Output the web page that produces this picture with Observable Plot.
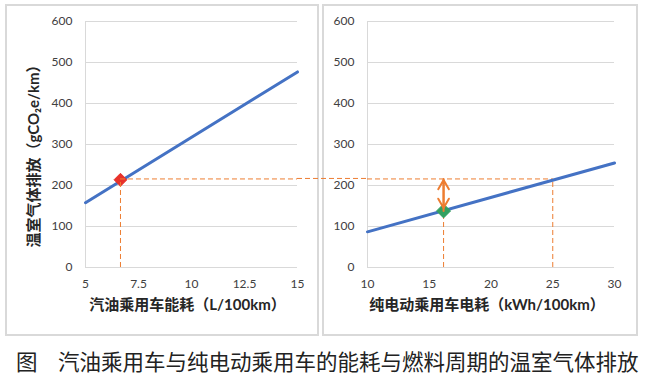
<!DOCTYPE html>
<html><head><meta charset="utf-8">
<script src="https://cdn.jsdelivr.net/npm/d3@7"></script>
<script src="https://cdn.jsdelivr.net/npm/@observablehq/plot@0.6"></script>
<style>
body{margin:0;background:#fff;}
#wrap{position:relative;width:649px;height:377px;overflow:hidden;font-family:Lato,"Noto Sans CJK SC",sans-serif;}
.panel{position:absolute;box-sizing:border-box;border:2px solid #d9d9d9;}
.plot{position:absolute;top:0;}
#overlay{position:absolute;left:0;top:0;pointer-events:none;}
#caption{position:absolute;left:16px;top:348px;font-size:21.5px;line-height:26px;color:#222;font-family:"Noto Sans CJK SC",sans-serif;white-space:nowrap;}
#caption .fig{display:inline-block;width:42px;}
</style></head>
<body>
<div id="wrap">
  <div class="panel" style="left:5px;top:4px;width:314px;height:332px;"></div>
  <div class="panel" style="left:322px;top:4px;width:316px;height:332px;"></div>
  <div id="left" class="plot" style="left:0px;"></div>
  <div id="right" class="plot" style="left:320px;"></div>
  <svg id="overlay" width="649" height="377"></svg>
  <div id="caption"><span class="fig">图</span>汽油乘用车与纯电动乘用车的能耗与燃料周期的温室气体排放</div>
</div>
<script>
// ---- data ----
const yTicks = [0, 100, 200, 300, 400, 500, 600];
const gasTicks = [5, 7.5, 10, 12.5, 15];
const evTicks = [10, 15, 20, 25, 30];
const gasX = [5, 15];          // L/100km
const gasY = [158, 477];       // gCO2e/km
const evX = [10, 30];          // kWh/100km
const evY = [87, 255];         // gCO2e/km
const gasPointX = [6.65];
const gasPointY = [214];
const evPointX = [16.16];
const evPointY = [138];
const refLevel = [216];        // emission level of the gasoline car
const evEqualX = [25];         // EV consumption with equal emission
const yTitle = "温室气体排放（gCO₂e/km）";
const gasTitle = "汽油乘用车能耗（L/100km）";
const evTitle = "纯电动乘用车电耗（kWh/100km）";

const GRID = "#d9d9d9", BLUE = "#4472C4", ORANGE = "#ED7D31";
const FONT = 'Lato, "Noto Sans CJK SC", "DejaVu Sans", sans-serif';
const common = {
  height: 335, marginTop: 21, marginBottom: 68,
  style: {background: "transparent", overflow: "visible", fontFamily: FONT, fontSize: "12px", color: "#404040"}
};

const leftPlot = Plot.plot({
  ...common,
  width: 320, marginLeft: 85, marginRight: 23,
  x: {domain: [5, 15]},
  y: {domain: [0, 600]},
  marks: [
    Plot.gridY(yTicks, {stroke: GRID, strokeOpacity: 1}),
    Plot.ruleX([gasX[0]], {stroke: GRID}),
    Plot.axisY(yTicks, {tickSize: 0, tickPadding: 13, label: null, fill: "#404040"}),
    Plot.axisX(gasTicks, {tickSize: 0, tickPadding: 12, label: null, fill: "#404040", tickFormat: d => String(d)}),
    Plot.line(gasX, {x: gasX, y: gasY, stroke: BLUE, strokeWidth: 3}),
    Plot.dot(gasPointX, {x: gasPointX, y: gasPointY, symbol: "diamond2", r: 5.8, fill: "#E8322B", stroke: "#E8322B", strokeWidth: 1}),
    Plot.ruleY(refLevel, {y: refLevel, x1: gasPointX[0], x2: gasX[1], stroke: ORANGE, strokeDasharray: "5,3"}),
    Plot.ruleX(gasPointX, {x: gasPointX, y1: 0, y2: gasPointY, stroke: ORANGE, strokeDasharray: "5,3"}),
    Plot.text([gasTitle], {text: d => d, frameAnchor: "bottom", textAnchor: "middle", dy: 42, dx: -4, fontSize: 15, fontWeight: "bold", fill: "#262626"}),
    Plot.text([yTitle], {text: d => d, frameAnchor: "left", textAnchor: "middle", rotate: -90, dx: -51, dy: 8, fontSize: 15, fontWeight: "bold", fill: "#262626"})
  ]
});
document.getElementById("left").append(leftPlot);

const rightPlot = Plot.plot({
  ...common,
  width: 329, marginLeft: 47, marginRight: 35,
  x: {domain: [10, 30]},
  y: {domain: [0, 600]},
  marks: [
    Plot.gridY(yTicks, {stroke: GRID, strokeOpacity: 1}),
    Plot.ruleX([evX[0]], {stroke: GRID}),
    Plot.axisY(yTicks, {tickSize: 0, tickPadding: 13, label: null, fill: "#404040"}),
    Plot.axisX(evTicks, {tickSize: 0, tickPadding: 12, label: null, fill: "#404040"}),
    Plot.ruleY(refLevel, {y: refLevel, x1: evX[0], x2: evEqualX[0], stroke: ORANGE, strokeDasharray: "5,3"}),
    Plot.ruleX(evEqualX, {x: evEqualX, y1: 0, y2: refLevel, stroke: ORANGE, strokeDasharray: "5,3"}),
    Plot.ruleX(evPointX, {x: evPointX, y1: 0, y2: evPointY, stroke: ORANGE, strokeDasharray: "5,3"}),
    Plot.line(evX, {x: evX, y: evY, stroke: BLUE, strokeWidth: 3}),
    Plot.dot(evPointX, {x: evPointX, y: evPointY, symbol: "diamond2", r: 6.3, fill: "#33A060", stroke: "#33A060", strokeWidth: 1}),
    Plot.arrow(evPointX, {x1: evPointX, x2: evPointX, y1: evPointY, y2: refLevel, stroke: ORANGE, strokeWidth: 2, headLength: 8, insetEnd: 1}),
    Plot.arrow(evPointX, {x1: evPointX, x2: evPointX, y1: refLevel, y2: evPointY, stroke: ORANGE, strokeWidth: 2, headLength: 8, insetEnd: 3}),
    Plot.text([evTitle], {text: d => d, frameAnchor: "bottom", textAnchor: "middle", dy: 42, dx: -4, fontSize: 15, fontWeight: "bold", fill: "#262626"})
  ]
});
document.getElementById("right").append(rightPlot);

// connector of the dashed level line between the two panels, positioned with the plots' own scales
const lx = leftPlot.scale("x").apply(gasX[1]) + 0;
const rx = rightPlot.scale("x").apply(evX[0]) + 320;
const ly = leftPlot.scale("y").apply(refLevel[0]);
d3.select("#overlay").append("line")
  .attr("x1", lx).attr("x2", rx).attr("y1", ly).attr("y2", ly)
  .attr("stroke", ORANGE).attr("stroke-dasharray", "5,3");
</script>
</body></html>
